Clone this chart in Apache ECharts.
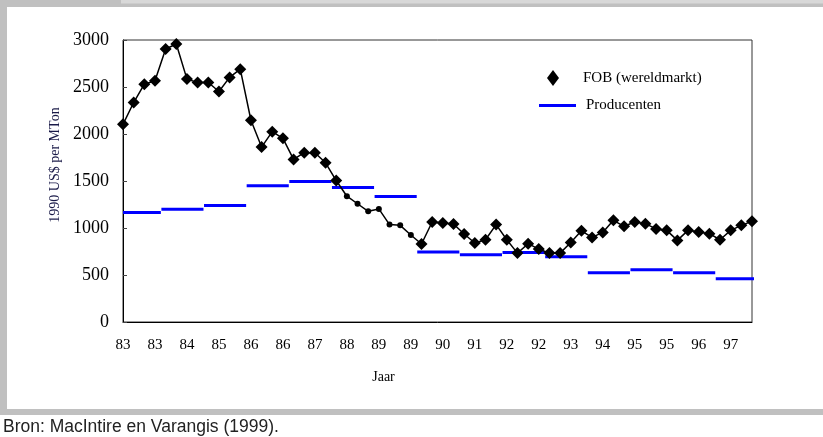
<!DOCTYPE html>
<html>
<head>
<meta charset="utf-8">
<script src="https://cdn.jsdelivr.net/npm/echarts@6/dist/echarts.min.js"></script>
<style>
html,body{margin:0;padding:0;background:#fff;}
#c{width:823px;height:437px;}
</style>
</head>
<body>
<div id="c"></div>
<script>
// Tick labels shown every 3rd quarter (x axis)
const tickLabels = ['83','83','84','85','86','86','87','88','89','89','90','91','92','92','93','94','95','95','96','97'];
// FOB (wereldmarkt), quarterly 1983 Q1 .. 1997 Q4
const fobValues = [
  2103, 2335, 2530, 2566, 2904, 2957, 2584, 2548, 2548, 2452,
  2602, 2690, 2146, 1861, 2025, 1954, 1730, 1801, 1801, 1694,
  1505, 1338, 1258, 1178, 1203, 1036, 1028, 925, 830, 1064,
  1053, 1043, 936, 840, 875, 1036, 875, 733, 833, 776,
  733, 733, 845, 970, 900, 953, 1082, 1018, 1064, 1046,
  990, 975, 868, 975, 958, 940, 875, 975, 1028, 1071
];
// Producenten, yearly
const producerYears = ['1983','1984','1985','1986','1987','1988','1989','1990','1991','1992','1993','1994','1995','1996','1997'];
const producerValues = [1165, 1200, 1240, 1450, 1495, 1430, 1335, 745, 715, 740, 695, 525, 555, 525, 460];

const serif = 'Liberation Serif, Times New Roman, serif';

const fobData = fobValues.map((v, i) => {
  const item = { value: [i, v] };
  if (i >= 21 && i <= 27) { item.symbol = 'circle'; item.symbolSize = 6; }
  return item;
});

const prodData = [];
producerValues.forEach((v, k) => {
  const s = Math.max(0, 4 * k - 0.4);
  const e = 4 * k + 3.55;
  prodData.push([s, v]);
  prodData.push([e, v]);
  if (k < producerValues.length - 1) prodData.push([e + 0.01, '-']);
});

const chart = echarts.init(document.getElementById('c'), null, { renderer: 'canvas' });
chart.setOption({
  animation: false,
  backgroundColor: '#fff',
  graphic: [
    { type: 'rect', shape: { x: 0, y: 0, width: 823, height: 7 }, style: { fill: '#c0c0c0' }, silent: true },
    { type: 'rect', shape: { x: 121, y: 0, width: 702, height: 3.5 }, style: { fill: '#d8d8d8' }, silent: true },
    { type: 'rect', shape: { x: 0, y: 0, width: 7, height: 412 }, style: { fill: '#c0c0c0' }, silent: true },
    { type: 'rect', shape: { x: 0, y: 409, width: 823, height: 6 }, style: { fill: '#c0c0c0' }, silent: true },
    { type: 'text', left: 3, top: 418, style: { text: 'Bron: MacIntire en Varangis (1999).', font: '17.5px "Liberation Sans Narrow", "Liberation Sans", Arial, sans-serif', fill: '#222' }, silent: true }
  ],
  grid: { left: 123, top: 40, width: 629, height: 282, show: true, borderColor: '#333', borderWidth: 1, backgroundColor: 'transparent' },
  legend: [
    {
      left: 542, top: 65, orient: 'vertical', itemWidth: 12, itemHeight: 16,
      data: [{ name: 'FOB (wereldmarkt)', icon: 'diamond' }],
      textStyle: { fontFamily: serif, fontSize: 15, color: '#000', padding: [0, 0, 0, 19] },
      selectedMode: false
    },
    {
      left: 534, top: 93, orient: 'vertical', itemWidth: 37, itemHeight: 3,
      data: [{ name: 'Producenten', icon: 'rect' }],
      textStyle: { fontFamily: serif, fontSize: 15, color: '#000', padding: [0, 0, 0, 5] },
      selectedMode: false
    }
  ],
  xAxis: {
    type: 'value', min: 0, max: 59, interval: 3,
    name: 'Jaar', nameLocation: 'middle', nameGap: 48,
    nameTextStyle: { fontFamily: serif, fontSize: 14, color: '#000', padding: [0, 108, 0, 0] },
    axisLine: { show: true, lineStyle: { color: '#000', width: 1 } },
    axisTick: { show: false },
    splitLine: { show: false },
    axisLabel: {
      fontFamily: serif, fontSize: 15, color: '#000', margin: 16,
      showMaxLabel: false,
      formatter: function (v) { return (v % 3 === 0 && v / 3 < tickLabels.length) ? tickLabels[v / 3] : ''; }
    }
  },
  yAxis: {
    type: 'value', min: 0, max: 3000, interval: 500,
    name: '1990 US$ per MTon', nameLocation: 'middle', nameGap: 53, nameRotate: 90,
    nameTextStyle: { fontFamily: serif, fontSize: 14, color: '#1a1a48', padding: [0, 0, 0, 32] },
    axisLine: { show: true, lineStyle: { color: '#000', width: 1 } },
    axisTick: { show: true, inside: true, length: 4, lineStyle: { color: '#444' } },
    splitLine: { show: false },
    axisLabel: { fontFamily: serif, fontSize: 18, color: '#000', margin: 14, formatter: function (v) { return String(v); } }
  },
  series: [
    {
      name: 'FOB (wereldmarkt)', type: 'line', data: fobData,
      symbol: 'diamond', symbolSize: 12, showSymbol: true,
      lineStyle: { color: '#000', width: 1.5 },
      itemStyle: { color: '#000' },
      z: 3
    },
    {
      name: 'Producenten', type: 'line', data: prodData,
      showSymbol: false, symbol: 'none', connectNulls: false, clip: false,
      lineStyle: { color: '#0000ff', width: 3 },
      itemStyle: { color: '#0000ff' },
      z: 2
    }
  ]
});
</script>
</body>
</html>
